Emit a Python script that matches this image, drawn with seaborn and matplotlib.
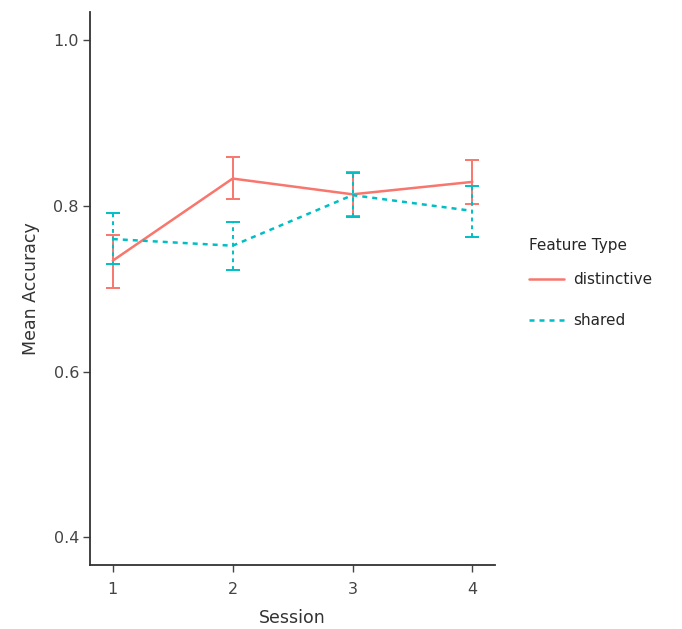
import matplotlib
matplotlib.use("Agg")
import matplotlib.pyplot as plt
import seaborn as sns
import pandas as pd

sessions = [1, 2, 3, 4]
distinctive_mean = [0.734, 0.833, 0.814, 0.829]
distinctive_lo = [0.701, 0.808, 0.788, 0.802]
distinctive_hi = [0.765, 0.859, 0.841, 0.855]
shared_mean = [0.760, 0.752, 0.813, 0.794]
shared_lo = [0.730, 0.723, 0.787, 0.762]
shared_hi = [0.792, 0.780, 0.840, 0.824]
feature_types = ["distinctive", "shared"]
colors = {"distinctive": "#F8766D", "shared": "#00BFC4"}

df = pd.DataFrame({
    "Session": sessions * 2,
    "Accuracy": distinctive_mean + shared_mean,
    "lo": distinctive_lo + shared_lo,
    "hi": distinctive_hi + shared_hi,
    "Feature Type": ["distinctive"] * 4 + ["shared"] * 4,
})

sns.set_style("white")
fig = plt.figure(figsize=(6.82, 6.29), dpi=100)
ax = fig.add_axes([0.132, 0.102, 0.594, 0.879])

for ft in feature_types:
    sub = df[df["Feature Type"] == ft]
    eb = ax.errorbar(sub["Session"], sub["Accuracy"],
                     yerr=[sub["Accuracy"] - sub["lo"], sub["hi"] - sub["Accuracy"]],
                     fmt="none", ecolor=colors[ft], elinewidth=1.4, capsize=5,
                     capthick=1.4, zorder=2)
    if ft == "shared":
        for lc in eb[2]:
            lc.set_linestyle((0, (2, 2)))

sns.lineplot(data=df, x="Session", y="Accuracy", hue="Feature Type",
             style="Feature Type", palette=colors,
             dashes={"distinctive": "", "shared": (2, 2)},
             linewidth=1.8, ax=ax, zorder=3)

ax.set_xlim(0.81, 4.19)
ax.set_ylim(0.367, 1.034)
ax.set_xticks(sessions)
ax.set_xticklabels([str(s) for s in sessions])
ax.set_yticks([0.4, 0.6, 0.8, 1.0])
ax.set_yticklabels(["0.4", "0.6", "0.8", "1.0"])
ax.set_xlabel("Session", fontsize=12.5, color="#333333", labelpad=9)
ax.set_ylabel("Mean Accuracy", fontsize=12.5, color="#333333", labelpad=10)
ax.tick_params(axis="both", direction="out", length=5, width=1, colors="#444444",
               labelsize=11.5, left=True, bottom=True, pad=3)
ax.tick_params(axis="x", pad=7)
for s in ["top", "right"]:
    ax.spines[s].set_visible(False)
for s in ["left", "bottom"]:
    ax.spines[s].set_color("#333333")
    ax.spines[s].set_linewidth(1.3)

leg = ax.legend(title="Feature Type", loc="center left", bbox_to_anchor=(1.05, 0.51),
                frameon=False, fontsize=11, title_fontsize=11, handlelength=2.3,
                labelspacing=1.7, handletextpad=0.6)
leg._legend_box.align = "left"
leg._legend_box.sep = 14

fig.savefig("out.png", dpi=100)
